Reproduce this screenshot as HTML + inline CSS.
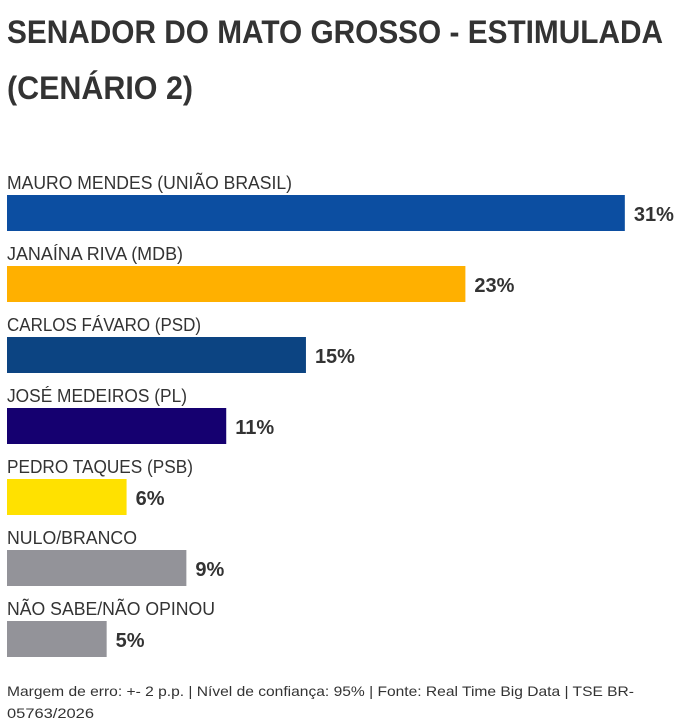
<!DOCTYPE html>
<html><head><meta charset="utf-8"><style>
html,body{margin:0;padding:0;background:#fff;width:689px;height:724px;overflow:hidden}
svg{display:block;font-family:"Liberation Sans",sans-serif}
</style></head><body>
<svg id="chart" width="689" height="724">
<text x="7" y="43" font-size="32" font-weight="bold" fill="#333" textLength="656" lengthAdjust="spacingAndGlyphs">SENADOR DO MATO GROSSO - ESTIMULADA</text>
<text x="7" y="99" font-size="32" font-weight="bold" fill="#333" textLength="186" lengthAdjust="spacingAndGlyphs">(CENÁRIO 2)</text>
<g id="bars"></g>
<text x="7" y="696" font-size="14" fill="#333" textLength="627" lengthAdjust="spacingAndGlyphs">Margem de erro: +- 2 p.p. | Nível de confiança: 95% | Fonte: Real Time Big Data | TSE BR-</text>
<text x="7" y="718" font-size="14" fill="#333" textLength="87" lengthAdjust="spacingAndGlyphs">05763/2026</text>
</svg>
<script>
const categories=["MAURO MENDES (UNIÃO BRASIL)","JANAÍNA RIVA (MDB)","CARLOS FÁVARO (PSD)","JOSÉ MEDEIROS (PL)","PEDRO TAQUES (PSB)","NULO/BRANCO","NÃO SABE/NÃO OPINOU"];
const values=[31,23,15,11,6,9,5];
const colors=["#0c4ea1","#ffb000","#0c4482","#150070","#ffe100","#939399","#939399"];
const labelWidths=[285,176,194,180,186,130,208];
const NS="http://www.w3.org/2000/svg";
const g=document.getElementById("bars");
function xScale(v){return v*19.93;}
function yPos(i){return 195+i*71;}
categories.forEach((c,i)=>{
  const y=yPos(i);
  const t=document.createElementNS(NS,"text");
  t.setAttribute("x",7);t.setAttribute("y",y-6);t.setAttribute("font-size",18);t.setAttribute("fill","#333");
  t.setAttribute("textLength",labelWidths[i]);t.setAttribute("lengthAdjust","spacingAndGlyphs");
  t.textContent=c;
  
  
  g.appendChild(t);
  const r=document.createElementNS(NS,"rect");
  const w=xScale(values[i]);
  r.setAttribute("x",7);r.setAttribute("y",y);r.setAttribute("width",w);r.setAttribute("height",36);r.setAttribute("fill",colors[i]);
  
  
  g.appendChild(r);
  const v=document.createElementNS(NS,"text");
  v.setAttribute("x",7+w+9);v.setAttribute("y",y+26);v.setAttribute("font-size",20);v.setAttribute("font-weight","bold");v.setAttribute("fill","#333");
  v.textContent=values[i]+"%";
  
  
  g.appendChild(v);
});
</script>
</body></html>
